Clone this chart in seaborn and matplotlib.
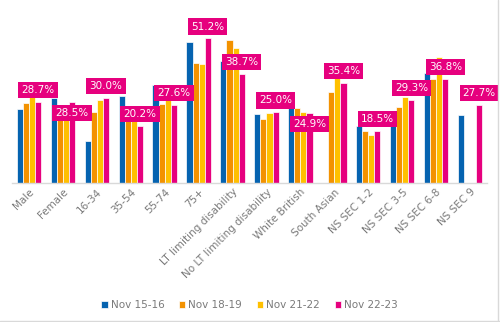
import matplotlib
matplotlib.use("Agg")
import matplotlib.pyplot as plt
from matplotlib.lines import Line2D
import seaborn as sns
import pandas as pd
import numpy as np

categories = ["Male", "Female", "16-34", "35-54", "55-74", "75+",
              "LT limiting disability", "No LT limiting disability",
              "White British", "South Asian", "NS SEC 1-2", "NS SEC 3-5",
              "NS SEC 6-8", "NS SEC 9"]
series = ["Nov 15-16", "Nov 18-19", "Nov 21-22", "Nov 22-23"]
nov_15_16 = [26.2, 30.1, 14.9, 30.6, 34.6, 50.0, 43.2, 24.4, 26.7, np.nan, 20.2, 20.5, 38.8, 24.0]
nov_18_19 = [28.4, 26.0, 25.0, 24.0, 27.8, 42.6, 50.6, 22.6, 26.5, 32.2, 18.3, 26.8, 36.8, np.nan]
nov_21_22 = [30.5, 26.0, 29.3, 24.0, 29.3, 42.0, 47.7, 24.6, 25.0, 37.6, 16.8, 30.5, 44.5, np.nan]
nov_22_23 = [28.7, 28.5, 30.0, 20.2, 27.6, 51.2, 38.7, 25.0, 24.9, 35.4, 18.5, 29.3, 36.8, 27.7]
colors = ["#0563B0", "#F39200", "#FFC000", "#E6007E"]

rows = []
for s, vals in zip(series, [nov_15_16, nov_18_19, nov_21_22, nov_22_23]):
    for c, v in zip(categories, vals):
        rows.append({"category": c, "series": s, "value": v})
df = pd.DataFrame(rows).dropna()

sns.set_style("white")
plt.rcParams["font.family"] = ["DejaVu Sans"]
fig = plt.figure(figsize=(5.0, 3.22), dpi=100)
ax = fig.add_axes([0.024, 0.4326, 0.95, 0.5426])

sns.barplot(data=df, x="category", y="value", hue="series", order=categories,
            hue_order=series, palette=colors, saturation=1, width=0.72,
            edgecolor="white", linewidth=0.5, errorbar=None, ax=ax)

ax.set_ylim(0, 62)
ax.set_xlim(-0.5, len(categories) - 0.5)
ax.set_xlabel("")
ax.set_ylabel("")
ax.set_yticks([])
for sp in ["top", "left", "right"]:
    ax.spines[sp].set_visible(False)
ax.spines["bottom"].set_color("#d9d9d9")
ax.spines["bottom"].set_linewidth(1.0)
ax.tick_params(axis="x", length=0, pad=3, labelsize=7.5, labelcolor="#7a7a7a")
plt.setp(ax.get_xticklabels(), rotation=45, ha="right", rotation_mode="anchor")

# data labels for latest series
label_dy = {1: -7.5, 8: -8.5}
pink = ax.containers[3]
for i, bar in enumerate(pink):
    x = bar.get_x() + bar.get_width() / 2
    h = bar.get_height()
    dy = label_dy.get(i, 8.5)
    ax.annotate(f"{nov_22_23[i]:.1f}%", xy=(x, h), xytext=(0, dy),
                textcoords="offset points", ha="center", va="center",
                fontsize=7.5, color="white",
                bbox=dict(boxstyle="square,pad=0.3", fc="#E6007E", ec="none"))

leg = ax.legend(loc="upper center", bbox_to_anchor=(0.5, -0.62), ncol=4,
                frameon=False, fontsize=7.5, handlelength=0.6, handleheight=0.6,
                handletextpad=0.3, columnspacing=1.4)
for t in leg.get_texts():
    t.set_color("#7a7a7a")

fig.add_artist(Line2D([0.995, 0.995], [0, 1], transform=fig.transFigure, color="#d9d9d9", lw=1))
fig.add_artist(Line2D([0, 1], [0.003, 0.003], transform=fig.transFigure, color="#d9d9d9", lw=1))

fig.savefig("out.png", dpi=100)
